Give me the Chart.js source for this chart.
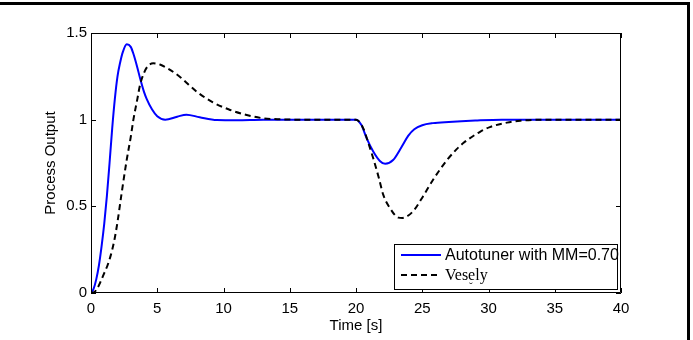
<!DOCTYPE html>
<html>
<head>
<meta charset="utf-8">
<script src="https://cdn.jsdelivr.net/npm/chart.js@4.4.1/dist/chart.umd.min.js"></script>
<style>
  html, body { margin: 0; padding: 0; background: #fff; }
  #wrap { width: 693px; height: 340px; }
</style>
</head>
<body>
<div id="wrap"><canvas id="chart" width="693" height="340"></canvas></div>
<script>
// --- data ---
const autoTimes = [0, 0.2, 0.4, 0.6, 0.8, 1.0, 1.2, 1.4, 1.6, 1.8, 2.0, 2.2, 2.4, 2.7, 3.0, 3.2, 3.5, 3.7, 4.0, 4.2, 4.6, 5.0, 5.6, 6.5, 7.2, 8.2, 9.5, 11, 13,
    20, 20.4, 20.8, 21.3, 21.8, 22.2, 22.8, 23.45, 23.95, 24.4, 25.0, 25.8, 27, 29, 31, 40];
const autotuner = [0, 0.025, 0.08, 0.16, 0.27, 0.40, 0.56, 0.75, 0.95, 1.12, 1.25, 1.33, 1.39, 1.435, 1.42, 1.38, 1.30, 1.24, 1.16, 1.12, 1.06, 1.02, 1.0, 1.017, 1.029, 1.014, 0.998, 0.997, 1.0,
    1.0, 0.97, 0.893, 0.816, 0.762, 0.745, 0.767, 0.844, 0.908, 0.945, 0.968, 0.98, 0.987, 0.995, 1.0, 1.0];

const veselyTimes = [0, 0.25, 0.5, 0.75, 1.0, 1.25, 1.5, 1.75, 2.0, 2.3, 2.7, 3.0, 3.2, 3.5, 3.7, 4.0, 4.3, 4.7, 5.2, 5.8, 6.7, 8.0, 9.2, 10.5, 11.75, 13, 14.3, 16,
    20, 20.55, 20.9, 21.3, 21.7, 22.06, 22.57, 23.2, 23.5, 23.95, 24.4, 25.08, 25.83, 26.85, 27.6, 28.1, 29.36, 30.1, 31.4, 32.4, 34, 40];
const vesely = [0, 0.005, 0.03, 0.07, 0.115, 0.16, 0.22, 0.3, 0.41, 0.57, 0.77, 0.9, 1.0, 1.12, 1.2, 1.27, 1.31, 1.325, 1.318, 1.295, 1.248, 1.16, 1.10, 1.056, 1.027, 1.008, 1.002, 1.0,
    1.0, 0.95, 0.873, 0.777, 0.671, 0.566, 0.489, 0.435, 0.433, 0.447, 0.48, 0.56, 0.655, 0.765, 0.83, 0.865, 0.93, 0.957, 0.983, 0.994, 1.0, 1.0];

const xTicks = [0, 5, 10, 15, 20, 25, 30, 35, 40];
const yTicks = [0, 0.5, 1, 1.5];

const seriesNames = ['Autotuner with MM=0.70', 'Vesely'];

const toPoints = (xs, ys) => xs.map((x, i) => ({ x: x, y: ys[i] }));

const FONT = 'Liberation Sans, Arial, Helvetica, sans-serif';

// white page + the outer figure frame (top and right edges)
const framePlugin = {
    id: 'frame',
    beforeDraw(chart) {
        const ctx = chart.ctx;
        ctx.save();
        ctx.fillStyle = '#fff';
        ctx.fillRect(0, 0, chart.width, chart.height);
        ctx.fillStyle = '#000';
        ctx.fillRect(0, 2, 690, 3);
        ctx.fillRect(687, 2, 3, chart.height - 2);
        ctx.restore();
    }
};

// MATLAB style axes box with inward ticks, plus the legend
const axesBoxPlugin = {
    id: 'axesBox',
    afterDatasetsDraw(chart) {
        const ctx = chart.ctx;
        const a = chart.chartArea;
        const xs = chart.scales.x, ys = chart.scales.y;
        const len = 5;
        ctx.save();
        ctx.strokeStyle = '#000';
        ctx.lineWidth = 1;
        ctx.beginPath();
        ctx.rect(a.left + 0.5, a.top + 0.5, a.right - a.left - 1, a.bottom - a.top - 1);
        xs.ticks.forEach(t => {
            const px = Math.round(xs.getPixelForValue(t.value)) + 0.5;
            ctx.moveTo(px, a.bottom); ctx.lineTo(px, a.bottom - len);
            ctx.moveTo(px, a.top); ctx.lineTo(px, a.top + len);
        });
        ys.ticks.forEach(t => {
            const py = Math.round(ys.getPixelForValue(t.value)) + 0.5;
            ctx.moveTo(a.left, py); ctx.lineTo(a.left + len, py);
            ctx.moveTo(a.right, py); ctx.lineTo(a.right - len, py);
        });
        ctx.stroke();

        // legend
        const bx = 394, by = 244, bw = 223, bh = 45;
        ctx.fillStyle = '#fff';
        ctx.fillRect(bx, by, bw, bh);
        ctx.strokeRect(bx + 0.5, by + 0.5, bw, bh);
        const rows = [255, 275];
        chart.data.datasets.forEach((ds, i) => {
            ctx.beginPath();
            ctx.strokeStyle = ds.borderColor;
            ctx.lineWidth = ds.borderWidth;
            ctx.setLineDash(ds.borderDash || []);
            ctx.moveTo(401, rows[i]);
            ctx.lineTo(441, rows[i]);
            ctx.stroke();
        });
        ctx.setLineDash([]);
        ctx.fillStyle = '#000';
        ctx.textBaseline = 'middle';
        ctx.textAlign = 'left';
        ctx.font = '16px ' + FONT;
        ctx.fillText(seriesNames[0], 445, rows[0] + 1);
        ctx.font = '16px "Liberation Serif", "Times New Roman", serif';
        ctx.fillText(seriesNames[1], 445, rows[1] + 1);
        ctx.font = '11px "Liberation Serif", serif';
        ctx.fillText('ˇ', 469, 287);
        ctx.restore();
    }
};

new Chart(document.getElementById('chart').getContext('2d'), {
    type: 'line',
    data: {
        datasets: [
            {
                label: seriesNames[0],
                data: toPoints(autoTimes, autotuner),
                borderColor: '#0000ff',
                borderWidth: 2,
                pointRadius: 0,
                cubicInterpolationMode: 'monotone',
                order: 2
            },
            {
                label: seriesNames[1],
                data: toPoints(veselyTimes, vesely),
                borderColor: '#000000',
                borderWidth: 2,
                borderDash: [6, 4],
                pointRadius: 0,
                cubicInterpolationMode: 'monotone',
                order: 1
            }
        ]
    },
    options: {
        responsive: false,
        animation: false,
        devicePixelRatio: 1,
        layout: { padding: { left: 0, top: 33, right: 72, bottom: 0 } },
        plugins: {
            legend: { display: false },
            tooltip: { enabled: false }
        },
        scales: {
            x: {
                type: 'linear',
                min: 0,
                max: 40,
                afterBuildTicks: s => { s.ticks = xTicks.map(v => ({ value: v })); },
                afterFit: s => { s.height = 47; },
                grid: { display: false, drawTicks: false },
                border: { display: false },
                ticks: { color: '#000', padding: 7, maxRotation: 0, autoSkip: false, font: { family: FONT, size: 15 }, callback: v => String(v) },
                title: { display: true, text: 'Time [s]', color: '#000', padding: { top: 0, bottom: 5 }, font: { family: FONT, size: 15 } }
            },
            y: {
                min: 0,
                max: 1.5,
                afterBuildTicks: s => { s.ticks = yTicks.map(v => ({ value: v })); },
                afterFit: s => { s.width = 91; },
                grid: { display: false, drawTicks: false },
                border: { display: false },
                ticks: { color: '#000', padding: 4, autoSkip: false, font: { family: FONT, size: 15 }, callback: v => String(v) },
                title: { display: true, text: 'Process Output', color: '#000', padding: { top: 42, bottom: 0 }, font: { family: FONT, size: 15 } }
            }
        }
    },
    plugins: [framePlugin, axesBoxPlugin]
});
</script>
</body>
</html>
